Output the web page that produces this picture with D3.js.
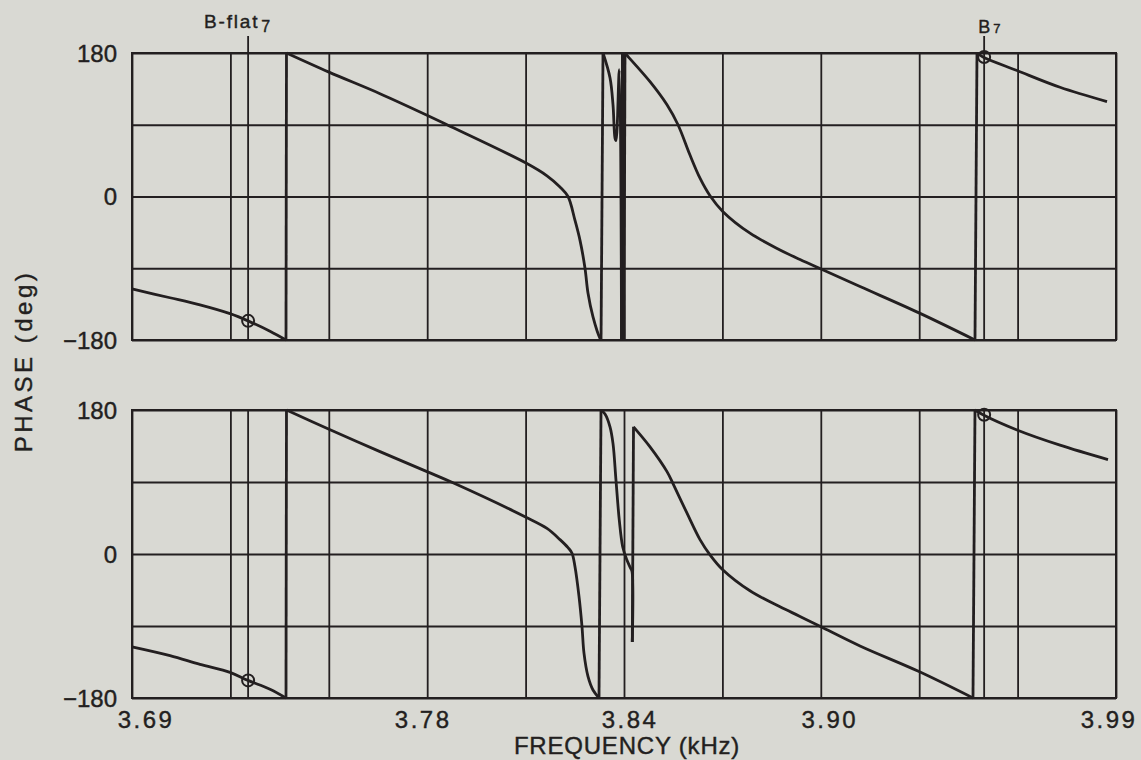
<!DOCTYPE html>
<html lang="en">
  <head>
    <meta charset="UTF-8" />
    <title>Phase vs frequency</title>
    <script src="https://d3js.org/d3.v7.min.js"></script>
    <style>
      body {
        margin: 0;
        background: #d9d9d3;
      }
      svg {
        display: block;
        font-family: 'Liberation Sans', Arial, sans-serif;
      }
      .grid line {
        stroke: #231f20;
        stroke-width: 1.8px;
      }
      .grid path {
        stroke: none;
      }
      .frame {
        fill: none;
        stroke: #231f20;
        stroke-width: 2px;
      }
      .curve,
      .jump {
        fill: none;
        stroke: #231f20;
        stroke-width: 2.8px;
        stroke-linejoin: round;
      }
      .marker {
        stroke: #231f20;
        stroke-width: 1.8px;
      }
      .ring {
        fill: none;
        stroke: #231f20;
        stroke-width: 2px;
      }
      text {
        fill: #231f20;
        stroke: #231f20;
        stroke-width: 0.4px;
      }
    </style>
  </head>
  <body>
    <svg id="chart" width="1141" height="760"></svg>

    <script>
      // grid and tick values
      const gridFreqs = [3.69, 3.72, 3.75, 3.78, 3.81, 3.84, 3.87, 3.9, 3.93, 3.96, 3.99];
      const freqTicks = [3.69, 3.78, 3.84, 3.9, 3.99];
      const freqTickLabels = ['3.69', '3.78', '3.84', '3.90', '3.99'];
      const phaseGrid = [-180, -90, 0, 90, 180];
      const phaseTicks = [180, 0, -180];

      // note markers
      const markerNames = ['B-flat', 'B'];
      const markerSubs = ['7', '7'];
      const markerFreqs = [3.7254, 3.9498];
      const topMarkerPhase = [-156, 175];
      const bottomMarkerPhase = [-158, 174];

      // phase curves, [kHz, deg], one array per unwrapped piece
      const topSegments = [
        [[3.69, -116], [3.70159, -127], [3.71073, -136], [3.71988, -147], [3.72537, -156], [3.73207, -169], [3.73695, -180]],
        [[3.7371, 180], [3.75006, 156], [3.76561, 129], [3.77994, 102], [3.78604, 90], [3.81012, 42], [3.81652, 26],
         [3.82049, 12], [3.82293, 0], [3.82506, -30], [3.82659, -55], [3.82811, -90], [3.82902, -121], [3.83055, -151], [3.83268, -178], [3.833, -180]],
        [[3.8336, 180], [3.83573, 149], [3.83665, 115], [3.83726, 73], [3.83756, 70], [3.83857, 159], [3.83924, -180]],
        [[3.83954, 180], [3.84, -180]],
        [[3.8403, 180], [3.84091, 177], [3.84793, 144], [3.85311, 115], [3.85646, 90], [3.86012, 52], [3.86317, 23],
         [3.86622, 1], [3.87018, -19], [3.87841, -46], [3.88756, -67], [3.89366, -79], [3.90006, -91], [3.91195, -113], [3.92994, -146], [3.94701, -180]],
        [[3.94762, 180], [3.94945, 175], [3.95982, 158], [3.97293, 137], [3.98726, 119]],
      ];

      const bottomSegments = [
        [[3.69, -116], [3.70159, -127], [3.71073, -138], [3.71988, -148], [3.72537, -158], [3.73207, -169], [3.73695, -180]],
        [[3.7371, 180], [3.75006, 156], [3.76561, 128], [3.77994, 103], [3.78787, 89], [3.81012, 46], [3.81652, 32],
         [3.82049, 18], [3.82293, 8], [3.82415, 1], [3.82506, -16], [3.82628, -53], [3.8272, -91], [3.8278, -124], [3.82902, -153], [3.83055, -170], [3.83238, -180]],
        [[3.83299, 180], [3.83421, 175], [3.83573, 159], [3.83665, 138], [3.83756, 92], [3.83857, 42], [3.8396, 9],
         [3.84082, -7], [3.84204, -18], [3.84244, -22], [3.84253, -110]],
        [[3.8429, 159], [3.84793, 134], [3.85311, 103], [3.85494, 88], [3.85921, 51], [3.86317, 18], [3.86622, -1],
         [3.87018, -20], [3.87841, -46], [3.88756, -66], [3.89366, -78], [3.90006, -91], [3.91195, -115], [3.92994, -147], [3.9464, -180]],
        [[3.94701, 180], [3.94945, 174], [3.95982, 155], [3.97293, 136], [3.98756, 118]],
      ];

      const left = 132,
        right = 1116,
        xLabelNudge = [14, -4, 6, 9, -7],
        panels = [
          { top: 53, bottom: 340, segments: topSegments, markerPhase: topMarkerPhase, labels: true },
          { top: 410, bottom: 698, segments: bottomSegments, markerPhase: bottomMarkerPhase, labels: false },
        ];

      const svg = d3.select('#chart');

      const x = d3.scaleLinear().domain([3.69, 3.99]).range([left, right]);

      panels.forEach((p) => {
        const y = d3.scaleLinear().domain([-180, 180]).range([p.bottom, p.top]);
        const g = svg.append('g');

        // grid
        g.append('g')
          .attr('class', 'grid')
          .attr('transform', `translate(0,${p.bottom})`)
          .call(d3.axisBottom(x).tickValues(gridFreqs).tickSize(-(p.bottom - p.top)).tickFormat(''));
        g.append('g')
          .attr('class', 'grid')
          .attr('transform', `translate(${left},0)`)
          .call(d3.axisLeft(y).tickValues(phaseGrid).tickSize(-(right - left)).tickFormat(''));

        g.append('rect')
          .attr('class', 'frame')
          .attr('x', left)
          .attr('y', p.top)
          .attr('width', right - left)
          .attr('height', p.bottom - p.top);

        // phase tick labels
        g.selectAll('.ylab')
          .data(phaseTicks)
          .enter()
          .append('text')
          .attr('class', 'ylab')
          .attr('x', left - 15)
          .attr('y', (d) => y(d))
          .attr('dy', '0.36em')
          .attr('text-anchor', 'end')
          .style('font-size', '24px')
          .text((d) => (d < 0 ? '\u2212' + Math.abs(d) : d));

        // note marker lines
        g.selectAll('.marker')
          .data(markerFreqs)
          .enter()
          .append('line')
          .attr('class', 'marker')
          .attr('x1', (d) => x(d))
          .attr('x2', (d) => x(d))
          .attr('y1', p.labels ? 36 : p.top)
          .attr('y2', p.bottom);

        // curve
        const line = d3
          .line()
          .x((d) => x(d[0]))
          .y((d) => y(d[1]))
          .curve(d3.curveCatmullRom.alpha(0.5));
        const jumpLine = d3
          .line()
          .x((d) => x(d[0]))
          .y((d) => y(d[1]));

        p.segments.forEach((seg, i) => {
          g.append('path').attr('class', 'curve').attr('d', line(seg));
          if (i < p.segments.length - 1) {
            const next = p.segments[i + 1];
            g.append('path')
              .attr('class', 'jump')
              .attr('d', jumpLine([seg[seg.length - 1], next[0]]));
          }
        });

        // rings at the note frequencies
        g.selectAll('.ring')
          .data(markerFreqs)
          .enter()
          .append('circle')
          .attr('class', 'ring')
          .attr('cx', (d) => x(d))
          .attr('cy', (d, i) => y(p.markerPhase[i]))
          .attr('r', 6);
      });

      // note labels
      const bflat = svg
        .append('text')
        .attr('x', x(markerFreqs[0]) - 44)
        .attr('y', 28)
        .style('font-size', '19px')
        .style('letter-spacing', '1.8px');
      bflat.append('tspan').text(markerNames[0]);
      bflat.append('tspan').attr('dy', 4).attr('dx', 2).style('font-size', '16px').text(markerSubs[0]);

      const bnat = svg
        .append('text')
        .attr('x', x(markerFreqs[1]) - 6)
        .attr('y', 33)
        .style('font-size', '18px');
      bnat.append('tspan').text(markerNames[1]);
      bnat.append('tspan').attr('dx', 3).style('font-size', '13px').text(markerSubs[1]);

      // frequency tick labels
      svg
        .selectAll('.xlab')
        .data(freqTicks)
        .enter()
        .append('text')
        .attr('class', 'xlab')
        .attr('x', (d, i) => x(d) + xLabelNudge[i])
        .attr('y', 728)
        .attr('text-anchor', 'middle')
        .style('font-size', '24px')
        .style('letter-spacing', '2.5px')
        .text((d, i) => freqTickLabels[i]);

      svg
        .append('text')
        .attr('x', 627)
        .attr('y', 754)
        .attr('text-anchor', 'middle')
        .style('font-size', '24px')
        .style('letter-spacing', '0.8px')
        .text('FREQUENCY (kHz)');

      svg
        .append('text')
        .attr('transform', 'rotate(-90)')
        .attr('x', -361)
        .attr('y', 32)
        .attr('text-anchor', 'middle')
        .style('font-size', '24px')
        .style('letter-spacing', '3.5px')
        .text('PHASE (deg)');
    </script>
  </body>
</html>
